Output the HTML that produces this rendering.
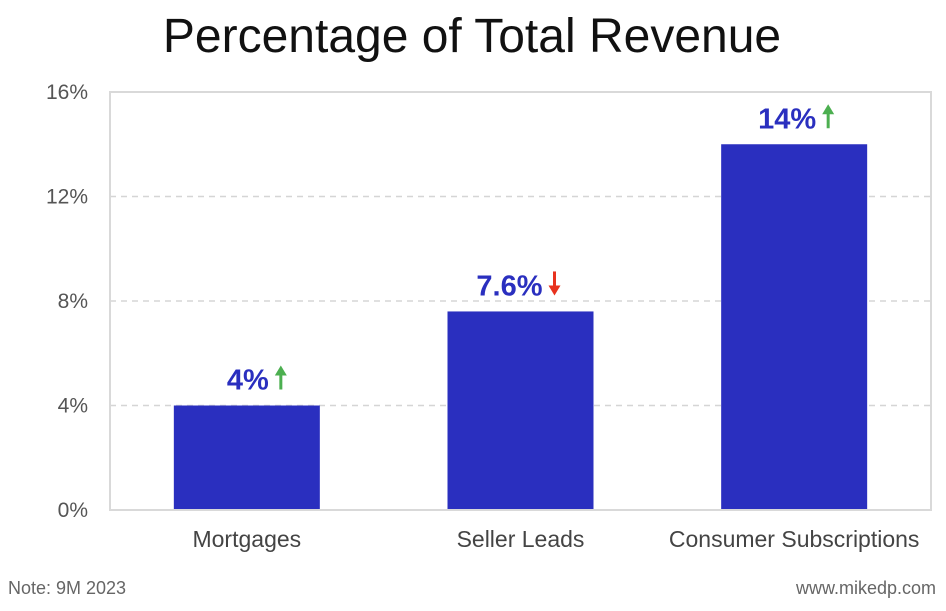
<!DOCTYPE html>
<html><head><meta charset="utf-8"><style>
body{margin:0;background:#fff;width:946px;height:606px;overflow:hidden;font-family:"Liberation Sans",sans-serif}
</style></head><body>
<svg id="chart" width="946" height="606" xmlns="http://www.w3.org/2000/svg">
<text x="472" y="52" text-anchor="middle" font-size="48" fill="#111">Percentage of Total Revenue</text>
<g id="grid"></g>
<g id="bars"></g>
<rect x="110" y="92" width="821" height="418" fill="none" stroke="#d9d9d9" stroke-width="2"/>
<text x="8" y="594" font-size="18" fill="#666">Note: 9M 2023</text>
<text x="936" y="594" text-anchor="end" font-size="18" fill="#666">www.mikedp.com</text>
</svg>
<script>
const categories=["Mortgages","Seller Leads","Consumer Subscriptions"];
const values=[4,7.6,14];
const valueLabels=["4%","7.6%","14%"];
const trends=["up","down","up"];
const ticks=[0,4,8,12,16];
const tickLabels=["0%","4%","8%","12%","16%"];
const NS="http://www.w3.org/2000/svg";
const L=110,R=931,T=92,B=510,yMax=16;
const y=v=>B-(v/yMax)*(B-T);
const band=(R-L)/categories.length;
const xc=i=>L+band*(i+0.5);
const bw=146;
function mk(tag,attrs,parent){const e=document.createElementNS(NS,tag);for(const k in attrs)e.setAttribute(k,attrs[k]);parent.appendChild(e);return e;}
const grid=document.getElementById('grid'),bars=document.getElementById('bars');
ticks.forEach((t,i)=>{
  if(t>0&&t<yMax){const l=mk('line',{x1:L,x2:R,y1:y(t),y2:y(t),stroke:'#d5d5d5','stroke-width':1.5,'stroke-dasharray':'6,5'},grid);
  
  }
  const tx=mk('text',{x:88,y:y(t)+7,'text-anchor':'end','font-size':21,fill:'#555'},grid);
  tx.textContent=tickLabels[i];
  
  
});
categories.forEach((c,i)=>{
  const r=mk('rect',{x:xc(i)-bw/2,y:y(values[i]),width:bw,height:B-y(values[i]),fill:'#2a2fbf'},bars);
  
  
  const cx=mk('text',{x:xc(i),y:547,'text-anchor':'middle','font-size':23,fill:'#444'},bars);
  cx.textContent=c;
  
  
  const ly=y(values[i])-16;
  const vl=mk('text',{x:xc(i)+22,y:ly,'text-anchor':'end','font-size':29,'font-weight':'bold',fill:'#2a2fbf'},bars);
  vl.textContent=valueLabels[i];
  
  
  const ax=xc(i)+34, col=trends[i]==='up'?'#4caf50':'#e8321e';
  const g=mk('g',{},bars);
  
  
  if(trends[i]==='up'){
    mk('line',{x1:ax,x2:ax,y1:ly,y2:ly-18,stroke:col,'stroke-width':3},g);
    mk('polygon',{points:`${ax-6},${ly-14} ${ax+6},${ly-14} ${ax},${ly-24}`,fill:col},g);
  }else{
    mk('line',{x1:ax,x2:ax,y1:ly-24,y2:ly-6,stroke:col,'stroke-width':3},g);
    mk('polygon',{points:`${ax-6},${ly-10} ${ax+6},${ly-10} ${ax},${ly}`,fill:col},g);
  }
});
</script>
</body></html>
